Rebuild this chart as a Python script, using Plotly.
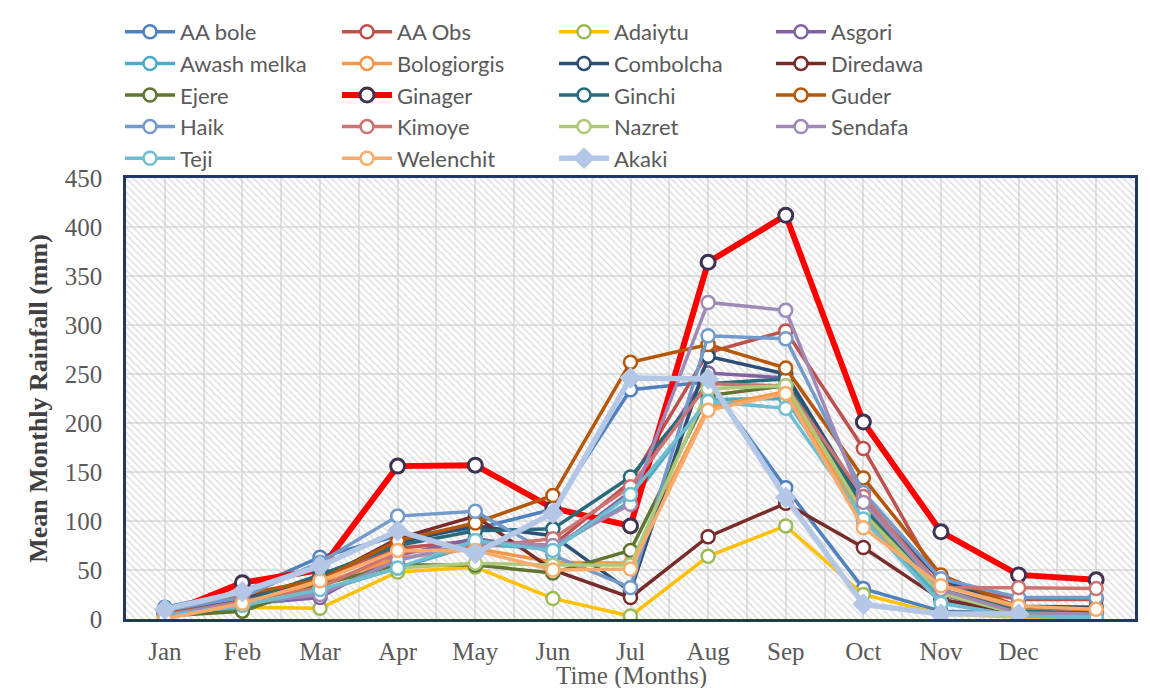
import numpy as np
import plotly.graph_objects as go

months = ["Jan", "Feb", "Mar", "Apr", "May", "Jun", "Jul", "Aug", "Sep", "Oct", "Nov", "Dec", ""]

aa_bole     = [12, 28, 63, 85, 92, 112, 234, 242, 134, 31, 8, 6, 5]
aa_obs      = [5, 20, 40, 72, 80, 75, 140, 272, 294, 174, 35, 20, 20]
adaiytu     = [2, 12, 11, 48, 53, 21, 3, 64, 95, 25, 5, 2, 1]
asgori      = [4, 15, 22, 65, 82, 70, 130, 251, 246, 112, 25, 4, 3]
awash_melka = [3, 12, 28, 52, 76, 72, 120, 224, 225, 105, 20, 4, 3]
bologiorgis = [1, 18, 36, 62, 72, 58, 57, 216, 232, 100, 30, 10, 8]
combolcha   = [6, 20, 42, 78, 95, 85, 28, 268, 250, 120, 40, 13, 12]
diredawa    = [5, 22, 40, 82, 105, 50, 22, 84, 118, 73, 20, 6, 5]
ejere       = [3, 8, 35, 55, 55, 47, 70, 228, 238, 110, 28, 5, 4]
ginager     = [5, 37, 50, 156, 157, 113, 95, 364, 412, 201, 89, 45, 40]
ginchi      = [5, 18, 45, 75, 90, 92, 145, 240, 245, 115, 30, 8, 6]
guder       = [6, 25, 40, 80, 98, 126, 262, 280, 256, 144, 45, 12, 10]
haik        = [9, 22, 58, 105, 110, 65, 32, 289, 286, 129, 41, 22, 22]
kimoye      = [4, 18, 32, 68, 73, 82, 135, 240, 238, 125, 32, 32, 31]
nazret      = [3, 14, 30, 52, 57, 55, 55, 235, 238, 108, 26, 5, 4]
sendafa     = [4, 16, 25, 60, 78, 75, 117, 323, 315, 119, 30, 6, 5]
teji        = [3, 14, 30, 52, 80, 70, 127, 222, 215, 102, 16, 3, 1]
welenchit   = [0, 16, 39, 70, 70, 50, 51, 213, 230, 93, 34, 13, 10]
akaki       = [10, 28, 54, 90, 67, 108, 246, 245, 124, 15, 5, 5, None]

series = [
    ("AA bole", aa_bole, "#4F81BD", "#4F81BD"),
    ("AA Obs", aa_obs, "#C0504D", "#C0504D"),
    ("Adaiytu", adaiytu, "#FFC000", "#9BBB59"),
    ("Asgori", asgori, "#8064A2", "#8064A2"),
    ("Awash melka", awash_melka, "#4BACC6", "#4BACC6"),
    ("Bologiorgis", bologiorgis, "#F79646", "#F79646"),
    ("Combolcha", combolcha, "#2C4D75", "#2C4D75"),
    ("Diredawa", diredawa, "#772C2A", "#772C2A"),
    ("Ejere", ejere, "#5F7530", "#5F7530"),
    ("Ginager", ginager, "#FF0000", "#403152"),
    ("Ginchi", ginchi, "#276A7C", "#276A7C"),
    ("Guder", guder, "#B65708", "#B65708"),
    ("Haik", haik, "#729ACA", "#729ACA"),
    ("Kimoye", kimoye, "#CD7371", "#CD7371"),
    ("Nazret", nazret, "#AFC97A", "#AFC97A"),
    ("Sendafa", sendafa, "#9F8AB7", "#9F8AB7"),
    ("Teji", teji, "#6FBDD1", "#6FBDD1"),
    ("Welenchit", welenchit, "#F9AB6B", "#F9AB6B"),
]

xpos = np.arange(len(months))
ymax = 450
ncols = 4
legend_ids = ["legend", "legend2", "legend3", "legend4"]

fig = go.Figure()

# hatched plot background
fig.add_trace(go.Bar(
    x=xpos, y=[ymax] * len(months), width=1,
    marker=dict(color="rgba(0,0,0,0)", line=dict(width=0),
                pattern=dict(shape="\\", fgcolor="#BDBDBD", bgcolor="rgba(0,0,0,0)",
                             size=5, solidity=0.3)),
    showlegend=False, hoverinfo="skip"))

for i, (name, vals, lc, mc) in enumerate(series):
    big = name == "Ginager"
    fig.add_trace(go.Scatter(
        x=xpos, y=vals, name=name, mode="lines+markers",
        legend=legend_ids[i % ncols],
        line=dict(color=lc, width=6 if big else 3.5),
        marker=dict(symbol="circle", size=14 if big else 13, color="white",
                    line=dict(color=mc, width=3 if big else 2.5)),
    ))

fig.add_trace(go.Scatter(
    x=xpos, y=akaki, name="Akaki", mode="lines+markers",
    legend=legend_ids[len(series) % ncols],
    line=dict(color="#B4C7E7", width=5.5),
    marker=dict(symbol="diamond", size=16, color="#B4C7E7",
                line=dict(color="#B4C7E7", width=1)),
))

serif = "Liberation Serif"
plot_w = 1150 - 126 - 15
plot_h = 688 - 178 - 69
col_px = [126, 343, 560, 777]
leg_common = dict(orientation="v", xanchor="left", y=1 + (178 - 11) / plot_h, yanchor="top",
                  font=dict(family="Lato", size=22, color="#595959"),
                  itemwidth=50, bgcolor="rgba(0,0,0,0)", traceorder="normal")
legends = {}
for lid, cx in zip(legend_ids, col_px):
    legends[lid] = dict(x=(cx - 126 - 6) / plot_w, **leg_common)

fig.update_layout(
    width=1150, height=688,
    margin=dict(l=126, r=15, t=178, b=69, autoexpand=False),
    paper_bgcolor="white", plot_bgcolor="white",
    bargap=0,
    font=dict(family=serif, color="#595959"),
    **legends,
    xaxis=dict(range=[-0.5, len(months) - 0.5], tickvals=xpos, ticktext=months,
               showline=True, mirror=True, linecolor="#1F3864", linewidth=2.5,
               showgrid=True, gridcolor="#E3E3E3", gridwidth=1.5,
               minor=dict(dtick=0.5, tick0=-0.5, showgrid=True, gridcolor="#E3E3E3", gridwidth=1.5),
               ticks="", ticklabelstandoff=8, zeroline=False,
               tickfont=dict(family=serif, size=25, color="#595959")),
    yaxis=dict(range=[0, ymax], dtick=50, tick0=0,
               showline=True, mirror=True, linecolor="#1F3864", linewidth=2.5,
               showgrid=True, gridcolor="#E3E3E3", gridwidth=1.5, zeroline=False,
               ticks="", ticklabelstandoff=16,
               tickfont=dict(family=serif, size=25, color="#595959"),
               title=dict(text="<b>Mean Monthly Rainfall (mm)</b>", standoff=10,
                          font=dict(family=serif, size=26, color="#404040"))),
    annotations=[dict(text="Time (Months)", xref="paper", yref="paper",
                      x=(631 - 126) / plot_w, y=-(676 - 619) / plot_h,
                      xanchor="center", yanchor="middle", showarrow=False,
                      font=dict(family=serif, size=25, color="#595959"))],
)

fig.write_html("out.html", config={"displayModeBar": False},
               post_script="document.body.style.margin='0';")
